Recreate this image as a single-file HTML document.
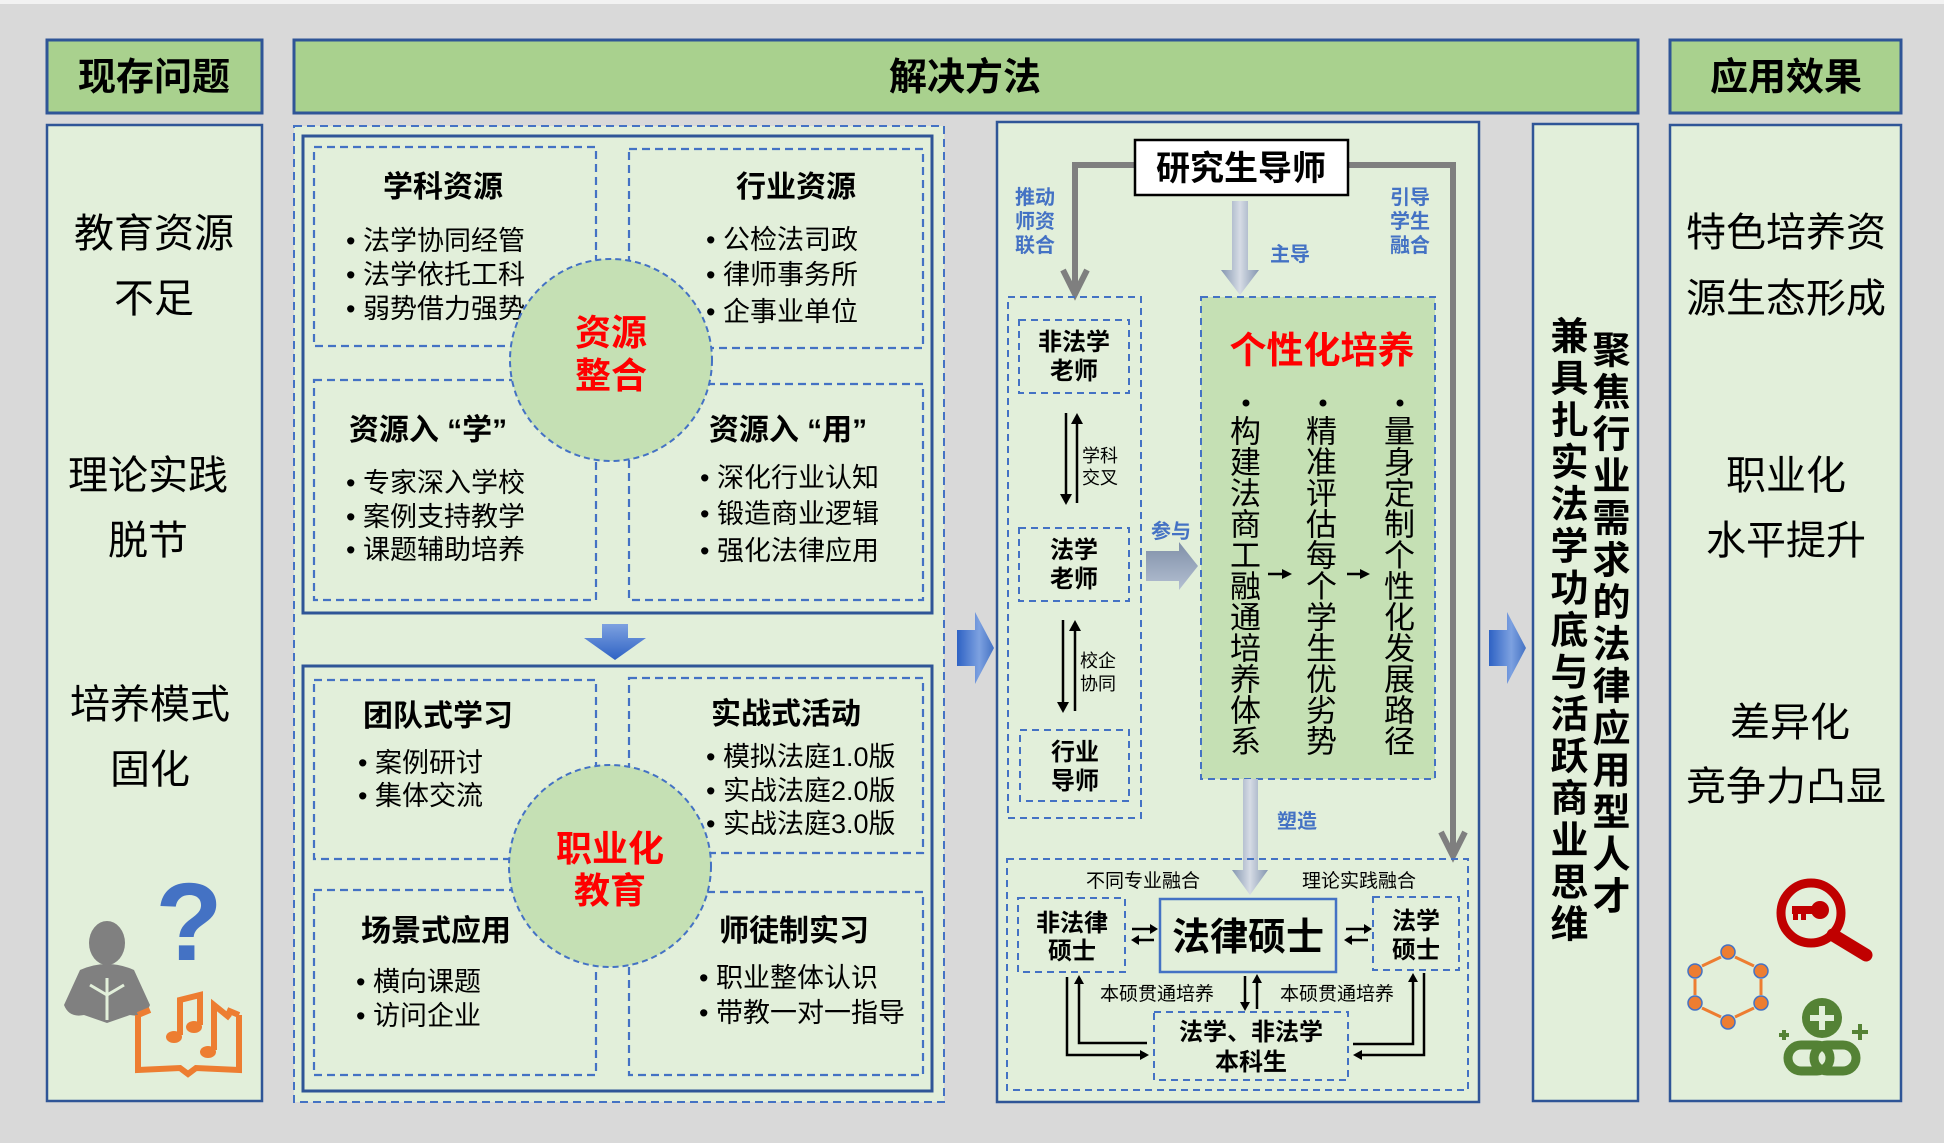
<!DOCTYPE html>
<html><head><meta charset="utf-8">
<style>
html,body{margin:0;padding:0;}
body{width:1944px;height:1143px;position:relative;background:#d9d9d9;overflow:hidden;font-family:"Liberation Sans","Noto Sans CJK SC",sans-serif;}
svg{position:absolute;left:0;top:0;}
.v{position:absolute;writing-mode:vertical-rl;text-orientation:upright;font-family:"Liberation Sans","Noto Sans CJK SC",sans-serif;color:#000;white-space:nowrap;}
</style></head>
<body>
<svg width="1944" height="1143" viewBox="0 0 1944 1143" font-family="Liberation Sans, Noto Sans CJK SC, sans-serif">
<defs>
<linearGradient id="gb" x1="0" y1="0" x2="1" y2="0"><stop offset="0" stop-color="#2e62c4"/><stop offset="0.6" stop-color="#7da1e0"/><stop offset="1" stop-color="#4472c4"/></linearGradient>
<linearGradient id="gbv" x1="0" y1="0" x2="0" y2="1"><stop offset="0" stop-color="#7da1e0"/><stop offset="1" stop-color="#2e62c4"/></linearGradient>
<linearGradient id="gg" x1="0" y1="0" x2="1" y2="0"><stop offset="0" stop-color="#8496b0"/><stop offset="0.5" stop-color="#d6dce5"/><stop offset="1" stop-color="#8496b0"/></linearGradient>
<linearGradient id="gg2" x1="0" y1="0" x2="0" y2="1"><stop offset="0" stop-color="#7f8fa8"/><stop offset="1" stop-color="#b4c0d2"/></linearGradient>
</defs>
<rect x="0" y="0" width="1944" height="4" fill="#f2f2f2"/>
<g fill="#a9d18e" stroke="#2f5597" stroke-width="3">
<rect x="47" y="40" width="215" height="73"/>
<rect x="294" y="40" width="1344" height="73"/>
<rect x="1670" y="40" width="231" height="73"/>
</g>
<g font-weight="bold" font-size="38" text-anchor="middle" fill="#000">
<text x="154" y="90">现存问题</text>
<text x="965" y="90">解决方法</text>
<text x="1786" y="90">应用效果</text>
</g>
<g fill="#e2efda" stroke="#2f5597" stroke-width="2.5">
<rect x="47" y="125" width="215" height="976"/>
<rect x="997" y="122" width="482" height="980"/>
<rect x="1533" y="124" width="105" height="977"/>
<rect x="1670" y="125" width="231" height="976"/>
</g>
<rect x="294" y="126" width="650" height="976" fill="#e2efda" stroke="#4472c4" stroke-width="2" stroke-dasharray="8,5"/>
<rect x="303" y="136" width="629" height="477" fill="#e2efda" stroke="#2f5597" stroke-width="3"/>
<rect x="303" y="666" width="629" height="425" fill="#e2efda" stroke="#2f5597" stroke-width="3"/>
<g font-size="40" text-anchor="middle" fill="#000">
<text x="154" y="247">教育资源</text><text x="154" y="312">不足</text>
<text x="148" y="489">理论实践</text><text x="148" y="554">脱节</text>
<text x="150" y="718">培养模式</text><text x="150" y="783">固化</text>
<text x="1786" y="246">特色培养资</text><text x="1786" y="312">源生态形成</text>
<text x="1786" y="489">职业化</text><text x="1786" y="554">水平提升</text>
<text x="1790" y="736">差异化</text><text x="1786" y="800">竞争力凸显</text>
</g>
<text x="189" y="960" font-size="110" font-weight="bold" fill="#4472c4" text-anchor="middle">?</text>
<g fill="#808080">
<ellipse cx="107" cy="943" rx="18" ry="22"/>
<path d="M80,970 Q107,958 134,970 L150,1005 Q145,1018 130,1015 L107,1023 L84,1015 Q69,1018 64,1005 Z"/>
</g>
<path d="M107,978 L107,1020 M90,985 L107,995 L124,985" stroke="#e2efda" stroke-width="3" fill="none"/>
<g stroke="#ed7d31" stroke-width="6" fill="none">
<path d="M138,1015 L138,1070 L180,1068 L188,1074 L196,1068 L239,1070 L239,1015"/>
<path d="M138,1015 L150,1010 M239,1015 L227,1010"/>
<path d="M180,1035 L180,1000 L200,995 L200,1025 M214,1050 L214,1005 L230,1018"/>
</g>
<g fill="#ed7d31"><ellipse cx="174" cy="1037" rx="8" ry="6"/><ellipse cx="194" cy="1027" rx="8" ry="6"/><ellipse cx="208" cy="1052" rx="8" ry="6"/></g>
<circle cx="1811" cy="913" r="30" fill="none" stroke="#c00000" stroke-width="9"/>
<line x1="1833" y1="935" x2="1866" y2="955" stroke="#c00000" stroke-width="13" stroke-linecap="round"/>
<g fill="#c00000"><circle cx="1820" cy="910" r="9"/><rect x="1792" y="906" width="26" height="8"/><rect x="1793" y="912" width="5" height="8"/><rect x="1801" y="912" width="5" height="8"/></g>
<g fill="#ed7d31" stroke="#4472c4" stroke-width="1.5">
<circle cx="1728" cy="952" r="7"/><circle cx="1761" cy="971" r="7"/><circle cx="1761" cy="1003" r="7"/><circle cx="1728" cy="1022" r="7"/><circle cx="1695" cy="1003" r="7"/><circle cx="1695" cy="971" r="7"/>
</g>
<g stroke="#ed7d31" stroke-width="3"><line x1="1735" y1="957" x2="1754" y2="966"/><line x1="1761" y1="979" x2="1761" y2="995"/><line x1="1754" y1="1008" x2="1735" y2="1017"/><line x1="1721" y1="1017" x2="1702" y2="1008"/><line x1="1695" y1="995" x2="1695" y2="979"/><line x1="1702" y1="966" x2="1721" y2="957"/></g>
<g fill="#548235"><circle cx="1822" cy="1018" r="20"/></g>
<g stroke="#e2efda" stroke-width="6"><line x1="1822" y1="1006" x2="1822" y2="1030"/><line x1="1810" y1="1018" x2="1834" y2="1018"/></g>
<g stroke="#548235" stroke-width="4"><line x1="1784" y1="1030" x2="1784" y2="1040"/><line x1="1779" y1="1035" x2="1789" y2="1035"/><line x1="1860" y1="1024" x2="1860" y2="1040"/><line x1="1852" y1="1032" x2="1868" y2="1032"/></g>
<g fill="none" stroke="#548235" stroke-width="9"><rect x="1788" y="1045" width="42" height="26" rx="13"/><rect x="1814" y="1045" width="42" height="26" rx="13"/></g>
<g fill="none" stroke="#4472c4" stroke-width="2.2" stroke-dasharray="8,5">
<rect x="314" y="147" width="282" height="199"/>
<rect x="629" y="149" width="294" height="199"/>
<rect x="314" y="380" width="282" height="220"/>
<rect x="629" y="384" width="294" height="216"/>
<rect x="314" y="680" width="282" height="179"/>
<rect x="629" y="678" width="294" height="175"/>
<rect x="314" y="890" width="282" height="185"/>
<rect x="629" y="892" width="294" height="183"/>
</g>
<g font-weight="bold" font-size="30" text-anchor="middle" fill="#000">
<text x="443" y="197">学科资源</text>
<text x="796" y="197">行业资源</text>
<text x="428" y="440">资源入 “学”</text>
<text x="788" y="440">资源入 “用”</text>
<text x="438" y="726">团队式学习</text>
<text x="786" y="724">实战式活动</text>
<text x="436" y="941">场景式应用</text>
<text x="794" y="941">师徒制实习</text>
</g>
<g font-size="27" fill="#000">
<text x="346" y="250">• 法学协同经管</text><text x="346" y="284">• 法学依托工科</text><text x="346" y="318">• 弱势借力强势</text>
<text x="706" y="249">• 公检法司政</text><text x="706" y="284">• 律师事务所</text><text x="706" y="321">• 企事业单位</text>
<text x="346" y="492">• 专家深入学校</text><text x="346" y="526">• 案例支持教学</text><text x="346" y="559">• 课题辅助培养</text>
<text x="700" y="487">• 深化行业认知</text><text x="700" y="523">• 锻造商业逻辑</text><text x="700" y="560">• 强化法律应用</text>
<text x="358" y="772">• 案例研讨</text><text x="358" y="805">• 集体交流</text>
<text x="706" y="766">• 模拟法庭1.0版</text><text x="706" y="800">• 实战法庭2.0版</text><text x="706" y="833">• 实战法庭3.0版</text>
<text x="356" y="991">• 横向课题</text><text x="356" y="1025">• 访问企业</text>
<text x="699" y="987">• 职业整体认识</text><text x="699" y="1022">• 带教一对一指导</text>
</g>
<g fill="#c5e0b4" stroke="#4472c4" stroke-width="2" stroke-dasharray="6,4">
<circle cx="611" cy="360" r="101"/>
<circle cx="610" cy="866" r="101"/>
</g>
<g font-weight="bold" font-size="36" text-anchor="middle" fill="#ff0000">
<text x="611" y="345">资源</text><text x="611" y="388">整合</text>
<text x="610" y="861">职业化</text><text x="610" y="903">教育</text>
</g>
<polygon points="602,624 628,624 628,638 646,638 615,660 584,638 602,638" fill="url(#gbv)"/>
<polygon points="957,630 975,630 975,612 994,648 975,684 975,666 957,666" fill="url(#gb)"/>
<polygon points="1489,630 1507,630 1507,612 1526,648 1507,684 1507,666 1489,666" fill="url(#gb)"/>
<g stroke="#7f7f7f" stroke-width="6" fill="none">
<polyline points="1135,165 1075,165 1075,292"/>
<polyline points="1063,270 1075,294 1087,270"/>
<polyline points="1348,165 1453,165 1453,852"/>
<polyline points="1441,832 1453,856 1465,832"/>
</g>
<rect x="1135" y="140" width="213" height="55" fill="#fff" stroke="#000" stroke-width="2.5"/>
<text x="1241" y="180" font-size="34" font-weight="bold" text-anchor="middle">研究生导师</text>
<polygon points="1232,201 1248,201 1248,270 1259,270 1240,295 1221,270 1232,270" fill="url(#gg)"/>
<g font-size="20" font-weight="bold" fill="#4472c4" text-anchor="middle">
<text x="1035" y="204">推动</text><text x="1035" y="228">师资</text><text x="1035" y="252">联合</text>
<text x="1410" y="204">引导</text><text x="1410" y="228">学生</text><text x="1410" y="252">融合</text>
<text x="1290" y="261">主导</text>
<text x="1171" y="538">参与</text>
<text x="1297" y="828">塑造</text>
</g>
<rect x="1008" y="297" width="133" height="521" fill="none" stroke="#4472c4" stroke-width="2" stroke-dasharray="7,5"/>
<g fill="none" stroke="#4472c4" stroke-width="2" stroke-dasharray="7,5">
<rect x="1019" y="320" width="110" height="73"/>
<rect x="1019" y="528" width="110" height="73"/>
<rect x="1020" y="730" width="109" height="71"/>
</g>
<g font-size="24" font-weight="bold" text-anchor="middle">
<text x="1074" y="350">非法学</text><text x="1074" y="379">老师</text>
<text x="1074" y="558">法学</text><text x="1074" y="587">老师</text>
<text x="1075" y="760">行业</text><text x="1075" y="789">导师</text>
</g>
<g stroke="#000" stroke-width="2.5">
<line x1="1066" y1="413" x2="1066" y2="498"/><line x1="1077" y1="420" x2="1077" y2="503"/>
<line x1="1063" y1="620" x2="1063" y2="706"/><line x1="1075" y1="627" x2="1075" y2="711"/>
</g>
<g fill="#000">
<polygon points="1060,494 1072,494 1066,505"/><polygon points="1071,424 1083,424 1077,413"/>
<polygon points="1057,702 1069,702 1063,713"/><polygon points="1069,631 1081,631 1075,620"/>
</g>
<g font-size="18" fill="#000">
<text x="1082" y="462">学科</text><text x="1082" y="484">交叉</text>
<text x="1080" y="667">校企</text><text x="1080" y="690">协同</text>
</g>
<polygon points="1146,551 1179,551 1179,542 1198,566 1179,590 1179,581 1146,581" fill="url(#gg2)"/>
<rect x="1201" y="297" width="234" height="482" fill="#c5e0b4" stroke="#4472c4" stroke-width="2" stroke-dasharray="7,5"/>
<text x="1322" y="363" font-size="37" font-weight="bold" fill="#ff0000" text-anchor="middle">个性化培养</text>
<g fill="#000"><circle cx="1246" cy="403" r="3.5"/><circle cx="1323" cy="403" r="3.5"/><circle cx="1400" cy="403" r="3.5"/></g>
<g stroke="#000" stroke-width="2.5"><line x1="1268" y1="574" x2="1284" y2="574"/><line x1="1347" y1="574" x2="1362" y2="574"/></g>
<g fill="#000"><polygon points="1282,569 1292,574 1282,579"/><polygon points="1360,569 1370,574 1360,579"/></g>
<polygon points="1243,779 1258,779 1258,870 1268,870 1250,895 1232,870 1243,870" fill="url(#gg)"/>
<rect x="1007" y="859" width="461" height="231" fill="none" stroke="#4472c4" stroke-width="2" stroke-dasharray="7,5"/>
<g font-size="19" fill="#000">
<text x="1086" y="887">不同专业融合</text><text x="1302" y="887">理论实践融合</text>
<text x="1100" y="1000">本硕贯通培养</text><text x="1280" y="1000">本硕贯通培养</text>
</g>
<rect x="1160" y="899" width="176" height="73" fill="#e2efda" stroke="#4472c4" stroke-width="2.5"/>
<text x="1248" y="950" font-size="38" font-weight="bold" text-anchor="middle">法律硕士</text>
<g fill="none" stroke="#4472c4" stroke-width="2" stroke-dasharray="7,5">
<rect x="1018" y="898" width="107" height="74"/>
<rect x="1373" y="897" width="86" height="73"/>
<rect x="1154" y="1012" width="194" height="68"/>
</g>
<g font-size="24" font-weight="bold" text-anchor="middle">
<text x="1072" y="931">非法律</text><text x="1072" y="959">硕士</text>
<text x="1416" y="929">法学</text><text x="1416" y="958">硕士</text>
<text x="1251" y="1040">法学、非法学</text><text x="1251" y="1070">本科生</text>
</g>
<g stroke="#000" stroke-width="2.5" fill="none">
<line x1="1132" y1="929" x2="1152" y2="929"/><line x1="1136" y1="940" x2="1154" y2="940"/>
<line x1="1346" y1="929" x2="1366" y2="929"/><line x1="1349" y1="940" x2="1368" y2="940"/>
<line x1="1245" y1="976" x2="1245" y2="1005"/><line x1="1257" y1="980" x2="1257" y2="1009"/>
<polyline points="1079,982 1079,1043 1147,1043"/>
<polyline points="1067,977 1067,1055 1142,1055"/>
<polyline points="1353,1044 1413,1044 1413,978"/>
<polyline points="1424,973 1424,1055 1360,1055"/>
</g>
<g fill="#000">
<polygon points="1150,924 1158,929 1150,934"/><polygon points="1139,935 1131,940 1139,945"/>
<polygon points="1364,924 1372,929 1364,934"/><polygon points="1352,935 1344,940 1352,945"/>
<polygon points="1240,1002 1250,1002 1245,1011"/><polygon points="1252,983 1262,983 1257,974"/>
<polygon points="1074,984 1084,984 1079,975"/><polygon points="1140,1050 1149,1055 1140,1060"/>
<polygon points="1408,982 1418,982 1413,973"/><polygon points="1362,1050 1353,1055 1362,1060"/>
</g>
</svg>
<div class="v" style="left:1545px;top:316px;font-size:38px;font-weight:bold;line-height:40px;letter-spacing:4px;">兼具扎实法学功底与活跃商业思维</div>
<div class="v" style="left:1587px;top:330px;font-size:38px;font-weight:bold;line-height:40px;letter-spacing:4px;">聚焦行业需求的法律应用型人才</div>
<div class="v" style="left:1226px;top:415px;font-size:31px;line-height:32px;">构建法商工融通培养体系</div>
<div class="v" style="left:1302px;top:415px;font-size:31px;line-height:32px;">精准评估每个学生优劣势</div>
<div class="v" style="left:1380px;top:415px;font-size:31px;line-height:32px;">量身定制个性化发展路径</div>
</body></html>
